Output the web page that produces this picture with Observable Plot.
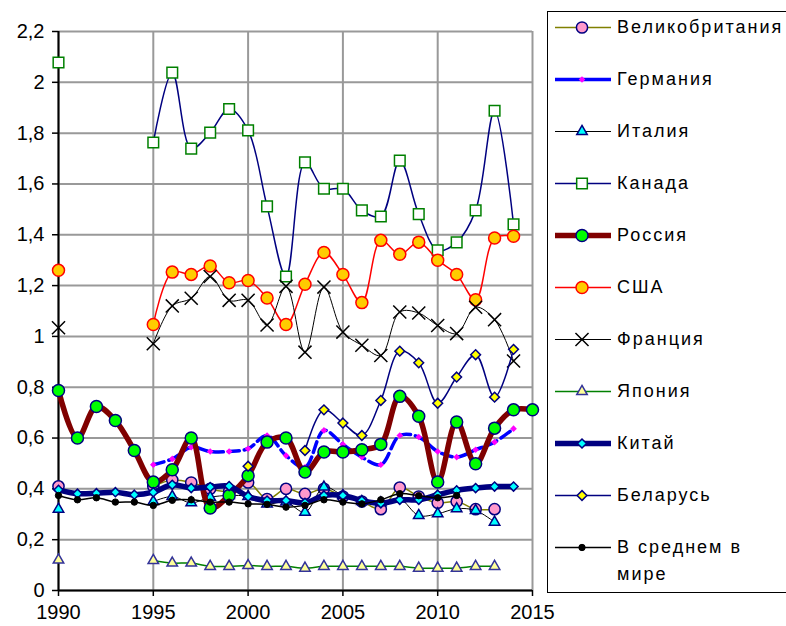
<!DOCTYPE html>
<html><head><meta charset="utf-8">
<script src="https://cdn.jsdelivr.net/npm/d3@7"></script>
<script src="https://cdn.jsdelivr.net/npm/@observablehq/plot@0.6"></script>
<style>
body{margin:0;background:#fff;overflow:hidden;font-family:"Liberation Sans",Arial,sans-serif;}
#wrap{position:relative;width:786px;height:626px;overflow:hidden;}
#legend{position:absolute;left:547px;top:11px;width:260px;height:582px;border:1.5px solid #000;background:#fff;box-sizing:border-box;}
.row{position:absolute;left:0;display:flex;align-items:flex-start;}
.row svg{flex:none;margin-left:6px;}
.row span{font-size:18px;letter-spacing:2px;margin-left:5px;color:#000;line-height:27px;white-space:nowrap;}
</style></head><body><div id="wrap"><div id="chart"></div><div id="legend"></div></div>
<script>
const years = [1990,1991,1992,1993,1994,1995,1996,1997,1998,1999,2000,2001,2002,2003,2004,2005,2006,2007,2008,2009,2010,2011,2012,2013,2014,2015];
const xTicks = [1990,1995,2000,2005,2010,2015];
const yTicks = [0,0.2,0.4,0.6,0.8,1,1.2,1.4,1.6,1.8,2,2.2];

const uk      = [0.41,null,null,null,null,0.41,0.435,0.425,0.40,0.39,0.425,0.36,0.40,0.38,0.40,0.37,0.35,0.32,0.405,0.37,0.345,0.35,0.32,0.32,null,null];
const germany = [null,null,null,null,null,0.495,0.518,0.564,0.547,0.547,0.558,0.61,0.531,0.485,0.63,0.575,0.525,0.495,0.61,0.604,0.547,0.525,0.554,0.584,0.637,null];
const italy   = [0.32,null,null,null,null,0.35,0.37,0.345,0.367,0.374,0.37,0.341,0.348,0.308,0.407,0.374,0.35,0.345,0.36,0.295,0.302,0.322,0.315,0.269,null,null];
const canada  = [2.078,null,null,null,null,1.763,2.038,1.739,1.802,1.895,1.811,1.512,1.236,1.685,1.581,1.581,1.496,1.472,1.692,1.481,1.339,1.370,1.496,1.888,1.441,null];
const russia  = [0.787,0.600,0.724,0.669,0.551,0.427,0.475,0.600,0.325,0.374,0.452,0.584,0.600,0.466,0.545,0.545,0.554,0.575,0.764,0.686,0.427,0.663,0.499,0.639,0.711,0.711];
const usa     = [1.260,null,null,null,null,1.047,1.253,1.244,1.277,1.211,1.220,1.151,1.047,1.205,1.330,1.244,1.133,1.378,1.323,1.371,1.300,1.244,1.144,1.387,1.394,null];
const france  = [1.034,null,null,null,null,0.971,1.12,1.15,1.236,1.142,1.142,1.045,1.197,0.938,1.194,1.017,0.965,0.925,1.096,1.092,1.043,1.011,1.115,1.066,0.903,null];
const japan   = [0.12,null,null,null,null,0.118,0.108,0.108,0.095,0.095,0.098,0.095,0.095,0.088,0.095,0.095,0.095,0.095,0.095,0.088,0.088,0.088,0.095,0.095,null,null];
const china   = [0.396,0.381,0.383,0.387,0.377,0.387,0.416,0.403,0.407,0.411,0.370,0.354,0.354,0.345,0.374,0.374,0.354,0.343,0.357,0.357,0.377,0.394,0.403,0.409,0.409,null];
const belarus = [null,null,null,null,null,null,null,null,null,null,0.489,null,null,0.551,0.711,0.659,0.610,0.748,0.942,0.896,0.737,0.840,0.928,0.761,0.949,null];
const world   = [0.374,0.357,0.365,0.348,0.348,0.335,0.355,0.357,0.348,0.348,0.341,0.339,0.328,0.335,0.357,0.348,0.341,0.357,0.381,0.373,0.365,0.374,null,null,null,null];

const names = ["Великобритания","Германия","Италия","Канада","Россия","США","Франция","Япония","Китай","Беларусь","В среднем в мире"];
const valuesList = [uk,germany,italy,canada,russia,usa,france,japan,china,belarus,world];

// styles (separate from data)
const styles = [
  {line:"#808000", lw:1.5, symbol:"circle",   r:5.6, fill:"#ff99cc", stroke:"#000080", sw:1.5},
  {line:"#0000ff", lw:3.5, dash:"11,5", symbol:"diamond2", r:3.0, fill:"#ff00ff", stroke:"none", sw:0},
  {line:"#000000", lw:1,   symbol:"triangle2", r:5.0, fill:"#00ffff", stroke:"#000080", sw:1.5},
  {line:"#000080", lw:1.5, symbol:"square",   r:6.0, fill:"#ffffff", stroke:"#008000", sw:1.5},
  {line:"#800000", lw:5.5, symbol:"circle",   r:6.0, fill:"#00ff00", stroke:"#000080", sw:1.5},
  {line:"#ff0000", lw:1.5, symbol:"circle",   r:6.0, fill:"#ffcc00", stroke:"#ff0000", sw:1.5},
  {line:"#000000", lw:1,   symbol:"times",    r:6.0, fill:"none",    stroke:"#000000", sw:1.5},
  {line:"#008000", lw:1.5, symbol:"triangle2", r:5.0, fill:"#ffff99", stroke:"#333399", sw:1.5},
  {line:"#000080", lw:5.5, symbol:"diamond2", r:4.1, fill:"#00ffff", stroke:"#000080", sw:1.5},
  {line:"#000080", lw:1.5, symbol:"diamond2", r:4.4, fill:"#ffff00", stroke:"#000080", sw:1.5},
  {line:"#000000", lw:1.5, symbol:"circle",   r:3.2, fill:"#000000", stroke:"#000000", sw:1}
];

const fmt = d => String(+d.toFixed(1)).replace(".", ",");

const seriesMarks = names.flatMap((name, k) => {
  const st = styles[k];
  const rows = years.map((yr, i) => ({year: yr, value: valuesList[k][i], name}));
  const pts = rows.filter(d => d.value != null);
  return [
    Plot.line(rows, {x:"year", y:"value", curve:"catmull-rom", stroke: st.line, strokeWidth: st.lw, strokeDasharray: st.dash, strokeLinejoin:"round"}),
    Plot.dot(pts, {x:"year", y:"value", symbol: st.symbol, r: st.r, fill: st.fill, stroke: st.stroke, strokeWidth: st.sw})
  ];
});

const chart = Plot.plot({
  width: 786, height: 626,
  marginLeft: 58, marginRight: 254, marginTop: 31, marginBottom: 36,
  style: {fontFamily: '"Liberation Sans", Arial, sans-serif', background: "#fff", color: "#000"},
  x: {domain: [1990, 2015]},
  y: {domain: [0, 2.2]},
  marks: [
    Plot.gridX(xTicks, {stroke: "#999", strokeOpacity: 1, strokeWidth: 2}),
    Plot.gridY(yTicks, {stroke: "#999", strokeOpacity: 1, strokeWidth: 2}),
    Plot.ruleX([1990], {stroke: "#000", strokeWidth: 2}),
    Plot.ruleY([0], {stroke: "#000", strokeWidth: 2}),
    Plot.axisX(xTicks, {tickFormat: d => String(d), tickSize: 6, tickPadding: 8, fontSize: 20, stroke: "#000", strokeWidth: 1.5, label: null}),
    Plot.axisY(yTicks, {tickFormat: fmt, tickSize: 6, tickPadding: 8, fontSize: 20, stroke: "#000", strokeWidth: 1.5, label: null}),
    ...seriesMarks
  ]
});
document.getElementById("chart").appendChild(chart);

// legend
const legend = d3.select("#legend");
const symMap = {circle: d3.symbolCircle, diamond2: d3.symbolDiamond2, triangle2: d3.symbolTriangle2, square: d3.symbolSquare, times: d3.symbolTimes};
names.forEach((name, k) => {
  const st = styles[k];
  const center = 16.6 + k * 52;
  const row = legend.append("div").attr("class", "row").style("top", (center - 13.5 - 1.5) + "px");
  const svg = row.append("svg").attr("width", 58).attr("height", 27);
  svg.append("line").attr("x1", 1).attr("x2", 57).attr("y1", 13.5).attr("y2", 13.5)
    .attr("stroke", st.line).attr("stroke-width", st.lw);
  svg.append("path").attr("transform", "translate(28,13.5)")
    .attr("d", d3.symbol(symMap[st.symbol], Math.PI * st.r * st.r)())
    .attr("fill", st.fill).attr("stroke", st.stroke).attr("stroke-width", st.sw);
  const span = row.append("span");
  if (k === names.length - 1) { span.html("В среднем в<br>мире"); } else { span.text(name); }
});
</script>
</body></html>
